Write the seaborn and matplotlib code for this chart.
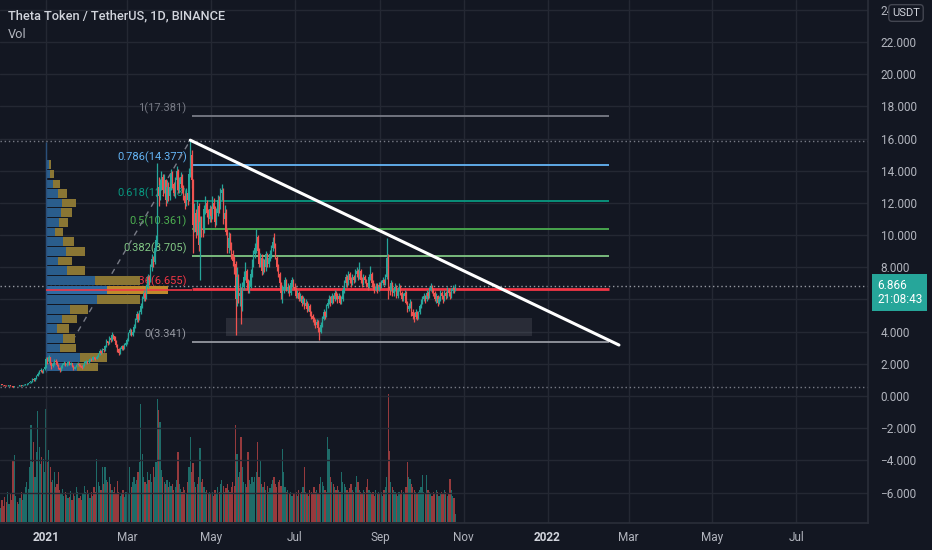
import numpy as np
import pandas as pd
import matplotlib
matplotlib.use("Agg")
import matplotlib.pyplot as plt
import matplotlib.dates as mdates
from matplotlib.patches import Rectangle
import seaborn as sns

# ---------------- values ----------------
first_day = "2020-11-28"   # first daily candle, last one is 2021-10-26

# daily closes, one line per month
close_txt = """
0.68 0.70 0.69
0.66 0.64 0.62 0.65 0.67 0.63 0.60 0.58 0.61 0.63 0.62 0.64 0.66 0.65 0.68 0.70 0.72 0.75 0.80 0.85 0.92 1.05 0.98 1.10 1.25 1.40 1.55 1.60 1.50 1.65 1.80
2.30 2.15 2.40 2.05 1.85 2.00 2.20 2.10 1.95 1.75 1.60 1.80 1.95 2.05 1.90 2.00 2.10 1.95 2.05 1.85 1.70 1.80 1.90 2.00 1.95 1.85 1.75 1.90 2.05 2.15 2.10
2.20 2.30 2.25 2.40 2.35 2.30 2.45 2.60 2.80 2.70 2.90 2.85 3.10 3.40 3.30 3.60 3.50 3.80 3.70 3.40 3.20 2.90 2.70 2.95 3.10 2.95 3.20 3.30
3.50 3.90 4.10 3.80 4.00 4.30 4.70 5.10 4.80 5.20 5.60 6.00 6.40 6.10 6.80 7.40 7.20 8.00 8.50 8.30 9.20 9.70 13.0 12.4 13.1 13.6 12.8 13.4 12.2 13.0 12.4
13.0 13.8 13.2 12.6 13.4 14.0 12.8 13.2 13.6 12.9 12.4 12.0 12.6 12.2 13.8 15.0 13.4 10.6 11.4 10.2 11.8 9.4 10.8 10.4 10.3 11.6 12.0 11.4 11.0 11.6
11.2 12.0 11.6 10.8 11.4 12.2 11.8 12.6 12.8 11.0 11.4 10.2 9.2 9.8 9.4 8.8 8.4 8.2 6.0 7.4 6.2 6.4 5.4 6.8 7.4 7.8 7.0 6.6 6.8 7.6 8.2
8.8 9.2 9.9 9.0 8.2 8.6 7.8 8.4 8.0 8.8 8.2 8.6 8.8 9.2 9.6 9.4 8.6 8.0 7.6 7.0 6.4 6.6 6.8 7.2 6.6 6.8 6.4 7.0 7.2 6.8
6.6 6.2 6.4 6.0 6.2 5.8 6.0 5.6 5.8 5.4 5.6 5.2 5.0 4.8 4.6 4.4 4.6 4.2 4.0 4.4 4.8 5.2 5.0 5.6 5.8 6.0 5.8 6.2 6.0 6.4 6.2
6.0 6.2 5.8 6.0 6.6 7.0 7.4 7.0 7.6 7.2 7.0 7.4 7.2 7.6 7.8 7.4 7.8 7.2 7.0 7.4 7.2 7.0 6.8 7.4 7.6 7.0 6.8 6.6 6.8 6.6 6.9
6.8 7.0 7.2 7.0 7.4 8.6 6.8 6.6 7.0 6.4 6.6 6.8 6.2 6.6 6.8 6.4 6.0 6.2 6.4 5.8 5.4 5.6 5.8 5.2 5.0 4.9 5.2 4.8 5.2 5.6
5.8 6.0 6.2 6.0 6.4 6.2 6.6 6.8 6.6 6.4 6.0 6.2 5.8 6.0 6.4 6.2 6.0 6.4 6.2 6.6 6.4 6.2 6.5 6.7 6.6 6.87
"""

high_txt = """
0.70 0.72 0.71
0.71 0.68 0.66 0.67 0.69 0.68 0.64 0.62 0.63 0.65 0.65 0.66 0.68 0.68 0.70 0.72 0.75 0.78 0.84 0.88 0.96 1.12 1.08 1.15 1.30 1.48 1.62 1.72 1.64 1.70 1.90
2.45 2.40 2.55 2.45 2.10 2.10 2.30 2.28 2.15 2.00 1.80 1.90 2.05 2.15 2.10 2.08 2.20 2.15 2.12 2.08 1.90 1.88 1.98 2.10 2.08 2.00 1.90 1.98 2.15 2.25 2.20
2.30 2.38 2.36 2.48 2.45 2.42 2.52 2.70 2.92 2.86 3.00 2.98 3.20 3.52 3.45 3.70 3.68 3.95 3.88 3.75 3.50 3.25 2.98 3.05 3.20 3.15 3.28 3.42
3.62 4.00 4.25 4.15 4.10 4.45 4.85 5.30 5.15 5.35 5.80 6.20 6.60 6.50 6.95 7.60 7.50 8.20 8.80 8.70 9.40 10.0 14.5 13.6 13.5 14.0 13.8 13.8 13.5 13.4 13.3
13.4 14.1 14.0 13.3 13.6 14.3 14.1 13.6 13.9 13.8 13.1 12.6 12.9 12.8 14.2 15.9 15.3 13.5 12.0 11.6 12.2 12.0 11.2 11.2 11.2 11.9 12.4 12.2 11.6 11.9
11.8 12.4 12.3 11.8 11.7 12.5 12.4 12.9 13.2 12.9 11.9 11.6 10.4 10.2 10.1 9.6 9.1 8.7 8.4 8.0 7.6 7.0 6.8 7.1 7.8 8.3 7.9 7.3 7.2 7.9 8.5
9.1 9.5 10.4 10.0 9.2 8.9 8.8 8.6 8.5 9.0 8.9 8.8 9.1 9.4 9.9 10.1 9.5 8.7 8.2 7.7 7.1 6.9 7.1 7.4 7.3 7.0 6.9 7.2 7.4 7.3
7.0 6.8 6.6 6.5 6.4 6.3 6.2 6.1 6.0 5.9 5.8 5.7 5.3 5.1 4.9 4.8 4.8 4.7 4.3 4.6 5.0 5.4 5.3 5.7 6.0 6.3 6.2 6.4 6.3 6.6 6.5
6.4 6.4 6.3 6.2 6.8 7.2 7.6 7.5 7.8 7.7 7.4 7.6 7.5 7.9 8.0 7.9 8.3 7.9 7.4 7.6 7.5 7.3 7.1 7.6 8.1 7.7 7.2 7.0 7.0 7.0 7.1
7.1 7.2 7.4 7.3 7.6 9.8 8.8 7.0 7.2 7.1 6.8 7.0 6.9 6.8 7.0 6.9 6.5 6.4 6.6 6.5 5.9 5.8 6.0 5.9 5.4 5.2 5.4 5.3 5.3 5.7
6.0 6.2 6.4 6.3 6.6 6.5 6.8 7.0 6.9 6.7 6.5 6.4 6.3 6.2 6.6 6.5 6.3 6.6 6.5 6.8 6.7 6.5 6.7 6.9 6.8 6.95
"""

low_txt = """
0.64 0.66 0.67
0.64 0.62 0.60 0.61 0.64 0.62 0.58 0.56 0.57 0.60 0.60 0.61 0.63 0.63 0.64 0.67 0.69 0.71 0.74 0.78 0.84 0.90 0.92 0.96 1.08 1.22 1.36 1.48 1.42 1.46 1.60
1.75 2.00 2.05 1.90 1.70 1.80 1.95 2.00 1.85 1.65 1.50 1.55 1.75 1.90 1.85 1.85 1.95 1.90 1.90 1.78 1.60 1.65 1.78 1.85 1.88 1.78 1.68 1.72 1.85 2.00 2.00
2.05 2.15 2.18 2.22 2.28 2.22 2.28 2.42 2.55 2.62 2.65 2.75 2.80 3.05 3.18 3.25 3.38 3.45 3.55 3.30 3.05 2.75 2.55 2.62 2.88 2.85 2.90 3.10
3.25 3.45 3.80 3.70 3.70 3.95 4.25 4.60 4.60 4.75 5.10 5.50 5.90 5.90 6.00 6.70 6.90 7.10 7.80 8.00 8.20 9.00 9.40 11.8 12.2 12.8 12.4 12.6 11.8 12.0 12.1
12.2 12.8 12.9 12.4 12.3 13.2 12.6 12.6 12.9 12.6 12.2 11.6 11.8 11.9 12.1 13.6 12.9 8.9 10.2 9.8 10.0 9.0 7.2 9.9 9.9 10.1 11.3 11.1 10.7 10.8
10.8 11.0 11.3 10.5 10.6 11.2 11.4 11.6 12.2 10.7 10.6 10.0 8.9 8.9 9.1 8.5 8.1 7.6 3.8 5.6 5.8 5.6 4.5 5.3 6.6 7.2 6.8 6.4 6.4 6.7 7.4
8.0 8.6 8.9 8.8 8.0 8.0 7.5 7.6 7.7 7.8 8.0 8.0 8.4 8.6 9.0 9.2 8.5 7.8 7.4 6.8 6.0 5.8 6.4 6.6 6.5 6.4 6.2 6.3 6.8 6.7
6.5 6.1 6.1 5.9 5.9 5.6 5.7 5.4 5.5 5.2 5.3 5.0 4.8 4.6 4.4 4.2 4.3 4.0 3.5 3.9 4.3 4.7 4.8 4.9 5.5 5.7 5.6 5.7 5.8 5.9 6.0
5.8 5.9 5.7 5.7 5.9 6.4 6.8 6.8 6.9 7.0 6.8 6.9 7.0 7.1 7.4 7.2 7.3 7.0 6.8 6.9 7.0 6.8 6.6 6.7 7.2 6.8 6.6 6.4 6.5 6.4 6.5
6.6 6.7 6.9 6.9 6.9 7.3 6.0 6.3 6.5 6.2 6.2 6.5 6.1 6.1 6.5 6.3 5.9 5.9 6.1 5.7 5.2 5.3 5.5 5.0 4.8 4.6 4.8 4.7 4.8 5.1
5.5 5.7 5.9 5.8 5.9 6.0 6.1 6.5 6.4 6.2 5.9 5.8 5.6 5.7 5.9 6.0 5.8 5.9 6.0 6.1 6.2 6.0 6.1 6.4 6.4 6.5
"""

# daily volume (relative units, as bar heights in the lower pane)
volume_txt = """
18 14 22
16 25 20 30 18 28 22 62 67 26 20 18 24 30 22 28 35 40 33 55 97 60 80 45 70 111 75 58 65 63 50
113 60 72 55 40 42 50 35 38 50 32 28 33 26 30 27 24 25 31 22 28 26 35 30 24 26 22 28 36 30 32
28 24 30 26 35 30 63 40 36 32 55 38 55 42 40 45 38 32 30 35 28 41 30 26 28 32 25 30
30 28 55 35 40 45 38 42 50 60 118 68 45 40 38 50 42 48 40 55 45 60 123 112 100 52 45 40 38 42 35
40 36 38 32 35 42 70 38 33 30 35 32 28 40 55 85 50 59 40 35 38 45 74 40 43 35 30 32 28 30
28 30 26 32 28 35 30 38 42 36 30 34 38 32 30 35 40 36 97 68 45 50 85 55 40 38 35 70 42 38 45
40 45 50 80 45 62 38 35 40 32 36 30 34 38 42 45 38 35 40 42 36 73 50 35 30 32 28 30 26 28
28 30 26 32 28 30 35 55 30 28 26 32 30 28 35 30 32 28 38 45 40 36 32 30 85 73 45 40 38 35 32
36 32 30 50 40 38 35 32 30 34 38 32 30 35 46 40 32 30 28 32 30 35 43 32 30 28 30 26 32 28 30
28 30 26 32 35 45 128 71 40 35 32 30 28 26 30 28 32 30 28 35 60 45 43 38 35 32 30 28 30 32
35 47 30 28 47 32 30 28 26 30 28 32 30 26 28 30 28 32 30 26 28 43 32 26 24 8
"""

# visible-range volume profile (rows of 0.6 USDT from 1.49 upward)
vp_start = "2021-01-01"
vp_low, vp_step = 1.49, 0.6
vp_up = [31, 34, 14, 17, 11, 16, 24, 51, 61, 49, 21, 12, 20, 17, 9, 13, 15, 16, 12, 7, 4, 3]
vp_down = [21, 27, 16, 12, 12, 15, 18, 43, 61, 45, 18, 14, 19, 11, 8, 9, 11, 14, 9, 7, 4, 2]
vp_poc = 6.59

# fibonacci retracement
fib_ratio = ["1", "0.786", "0.618", "0.5", "0.382", "0.236", "0"]
fib_price = [17.381, 14.377, 12.118, 10.361, 8.705, 6.655, 3.341]
fib_color = ["#787b86", "#64b5f6", "#089981", "#4caf50", "#81c784", "#f23645", "#9598a1"]
fib_from, fib_to = "2021-04-17", "2022-02-15"

# drawings
trend_dates = ["2021-04-16", "2022-02-22"]
trend_price = [15.9, 3.17]
fib_diag_dates = ["2021-01-12", "2021-04-16"]
fib_diag_price = [2.24, 15.9]
box_dates = ["2021-05-12", "2021-12-21"]
box_price = [3.73, 4.85]

last_price = 6.866
countdown = "21:08:43"

tick_dates = ["2021-01-01", "2021-03-01", "2021-05-01", "2021-07-01", "2021-09-01",
              "2021-11-01", "2022-01-01", "2022-03-01", "2022-05-01", "2022-07-01"]
tick_labels = ["2021", "Mar", "May", "Jul", "Sep", "Nov", "2022", "Mar", "May", "Jul"]
price_ticks = list(range(-6, 25, 2))


def parse(txt):
    return np.array(txt.split(), dtype=float)


close = parse(close_txt)
high = parse(high_txt)
low = parse(low_txt)
vol = parse(volume_txt)
dates = pd.date_range(first_day, periods=len(close), freq="D")
opens = np.r_[close[0] - 0.02, close[:-1]]
high = np.maximum(high, np.maximum(opens, close))
low = np.minimum(low, np.minimum(opens, close))
rising = close >= opens

BG = "#131722"
GRID = "#242833"
TXT = "#b2b5be"
UP, DOWN = "#26a69a", "#ef5350"

sns.set_theme(style="dark", rc={
    "axes.facecolor": BG, "figure.facecolor": BG,
    "axes.edgecolor": "#2a2e39", "grid.color": GRID,
    "xtick.color": TXT, "ytick.color": TXT, "text.color": TXT,
})
plt.rcParams["font.family"] = ["Roboto", "DejaVu Sans"]

fig = plt.figure(figsize=(9.32, 5.5), dpi=100)
W, H = 932, 550
axv = fig.add_axes([0, 27 / H, 868 / W, 523 / H])
ax = fig.add_axes([0, 27 / H, 868 / W, 523 / H], sharex=axv)
ax.patch.set_visible(False)

x = mdates.date2num(dates)
base = mdates.date2num(pd.Timestamp("2021-01-01"))
px_day = 1.374
ax.set_xlim(base - 46 / px_day, base + 822 / px_day)
ax.set_ylim(-7.89, 24.61)

# volume pane (overlay at the bottom)
axv.bar(x, vol, width=0.9, color=np.where(rising, UP, DOWN), alpha=0.6, lw=0)
axv.set_ylim(-1, 522)
axv.set_yticks([])
axv.grid(False)
for s in axv.spines.values():
    s.set_visible(False)

# grid
for p in price_ticks:
    ax.axhline(p, color=GRID, lw=1, zorder=0.5)
for t in tick_dates:
    ax.axvline(mdates.date2num(pd.Timestamp(t)), color=GRID, lw=1, zorder=0.5)

# support box
bx = mdates.date2num(pd.to_datetime(box_dates))
ax.add_patch(Rectangle((bx[0], box_price[0]), bx[1] - bx[0], box_price[1] - box_price[0],
                       color="#787b86", alpha=0.22, lw=0, zorder=1))

# fibonacci levels
f0, f1 = mdates.date2num(pd.to_datetime([fib_from, fib_to]))
for r, p, c in zip(fib_ratio, fib_price, fib_color):
    ax.hlines(p, f0, f1, color=c, lw=2.0 if r == "0.236" else 1.3, zorder=2)
    ax.annotate(f"{r}({p:.3f})", xy=(f0, p), xytext=(-5, 2), textcoords="offset pixels",
                ha="right", va="bottom", color=c, fontsize=8, zorder=2)
fd = mdates.date2num(pd.to_datetime(fib_diag_dates))
ax.plot(fd, fib_diag_price, color="#787b86", lw=1, ls=(0, (4, 4)), zorder=3)

# volume profile
v0 = mdates.date2num(pd.Timestamp(vp_start))
rows = vp_low + vp_step * (np.arange(len(vp_up)) + 0.5)
up_w = np.array(vp_up) / px_day
dn_w = np.array(vp_down) / px_day
poc = np.argmin(np.abs(rows - vp_poc))
gold = ["#c08a2c" if i == poc else "#8a7634" for i in range(len(rows))]
blue = ["#2f6aa3" if i == poc else "#2a5d8c" for i in range(len(rows))]
ax.barh(rows, up_w, left=v0, height=vp_step * 0.88, color=blue, lw=0, zorder=3.5)
ax.barh(rows, dn_w, left=v0 + up_w, height=vp_step * 0.88, color=gold, lw=0, zorder=3.5)
ax.vlines(v0, vp_low, high.max() - 0.1, color="#2a4f7a", lw=1, zorder=3.5)
ax.hlines(vp_poc, v0, f0, color="#f23645", lw=1.2, zorder=3.6)

# candles
cols = np.where(rising, UP, DOWN)
ax.vlines(x, low, high, colors=cols, lw=0.9, zorder=5)
body = np.maximum(np.abs(close - opens), 0.03)
ax.bar(x, body, bottom=np.minimum(opens, close), width=0.85, color=cols, lw=0, zorder=5)

# high / low / last price lines
dot = (0, (1, 2))
ax.axhline(high.max() - 0.05, color="#787b86", lw=1, ls=dot, zorder=1)
ax.axhline(low.min(), color="#787b86", lw=1, ls=dot, zorder=1)
ax.axhline(last_price, color="#9598a1", lw=1, ls=dot, zorder=1)

# trend line
td = mdates.date2num(pd.to_datetime(trend_dates))
sns.lineplot(x=td, y=trend_price, ax=ax, color="white", lw=2.2, zorder=6)

# axes (the 6.000 label sits under the last-price tag)
ax.yaxis.tick_right()
ax.set_yticks(price_ticks)
ax.set_yticklabels(["" if p == 6 else f"{p:.3f}".replace("-", "\u2212") for p in price_ticks],
                   fontsize=8.5)
ax.tick_params(axis="y", length=0, pad=9)
ax.set_xticks(mdates.date2num(pd.to_datetime(tick_dates)))
ax.set_xticklabels(tick_labels, fontsize=8.5)
for lbl in ax.get_xticklabels():
    if lbl.get_text() in ("2021", "2022"):
        lbl.set_fontweight("bold")
        lbl.set_color("#d1d4dc")
ax.tick_params(axis="x", length=0, pad=6)
ax.set_xlabel("")
ax.set_ylabel("")
ax.grid(False)
for k in ("top", "left"):
    ax.spines[k].set_visible(False)
ax.spines["right"].set_color("#2a2e39")
ax.spines["bottom"].set_color("#2a2e39")
axv.tick_params(axis="x", length=0, labelbottom=False)

# last price tag
ax.annotate(f"{last_price:.3f}\n{countdown}", xy=(1, last_price),
            xycoords=("axes fraction", "data"), xytext=(9, 7), textcoords="offset pixels",
            ha="left", va="top", color="white", fontsize=8.5, linespacing=1.15,
            bbox=dict(boxstyle="square,pad=0.4", fc="#26a69a", ec="none"),
            annotation_clip=False, zorder=10)

# header texts
fig.text(8 / W, 1 - 16 / H, "Theta Token / TetherUS, 1D, BINANCE", fontsize=9.2,
         color="#d1d4dc", va="center", ha="left", fontweight="medium")
fig.text(8 / W, 1 - 34 / H, "Vol", fontsize=9.2, color=TXT, va="center", ha="left")
fig.text(906 / W, 1 - 13 / H, "USDT", fontsize=8, color="#d1d4dc", va="center", ha="center",
         zorder=20, bbox=dict(boxstyle="round,pad=0.3", fc=BG, ec="#434651", lw=1))

fig.savefig("out.png", dpi=100, facecolor=BG)
